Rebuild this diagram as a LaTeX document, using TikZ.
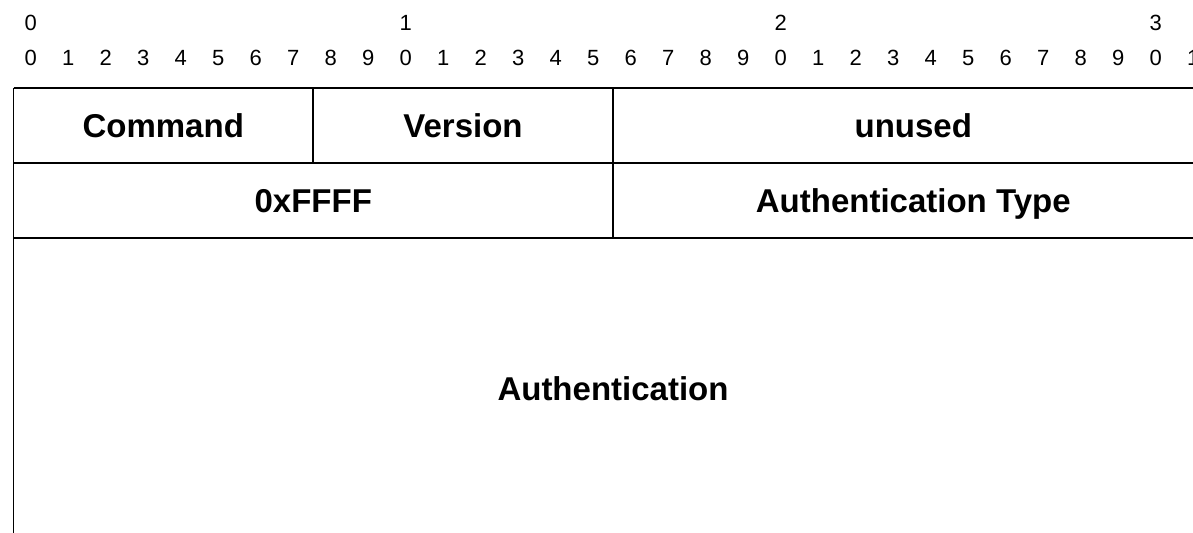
\documentclass[tikz,border=0pt]{standalone}
\usepackage{fontspec}
\setmainfont{Liberation Sans}
\begin{document}
\begin{tikzpicture}[x=1bp,y=-1bp,
  bitnum/.style={font=\fontsize{22bp}{22bp}\selectfont, text height=15.75bp, text depth=0pt, inner sep=0pt},
  field/.style={font=\fontsize{33bp}{33bp}\bfseries\selectfont, text height=23.6bp, text depth=0pt, inner sep=0pt},
  rule/.style={line width=1.2bp, draw=black}]
\useasboundingbox (0,0) rectangle (1193,533);
\begin{scope}
\clip (0,0) rectangle (1193,533);
% bit numbers
\foreach \k in {0,...,31}{
  \pgfmathtruncatemacro{\u}{mod(\k,10)}
  \node[bitnum] (u\k) at ({30.75+37.5*\k},57.5) {\u};
}
\foreach \t in {0,1,2,3}{
  \node[bitnum] (t\t) at ({30.75+375*\t},22.5) {\t};
}
% grid
\coordinate (a0) at (13.5,88);
\coordinate (a1) at (13.5,163);
\coordinate (a2) at (13.5,238);
\coordinate (a3) at (13.5,560);
\coordinate (b0) at (1213.5,88);
\coordinate (b1) at (1213.5,163);
\coordinate (b2) at (1213.5,238);
\coordinate (b3) at (1213.5,560);
\coordinate (c0) at (313,88);
\coordinate (c1) at (313,163);
\coordinate (d0) at (613,88);
\coordinate (d2) at (613,238);
\draw[rule] (a0) -- (b0);
\draw[rule] (a1) -- (b1);
\draw[rule] (a2) -- (b2);
\draw[rule] (a0) -- (a3);
\draw[rule] (b0) -- (b3);
\draw[rule] (c0) -- (c1);
\draw[rule] (d0) -- (d2);
% fields
\node[field] (cmd) at (163.25,125.5) {Command};
\node[field] (ver) at (463,125.5) {Version};
\node[field] (unu) at (913.25,125.5) {unused};
\node[field] (ffff) at (313.25,200.5) {0xFFFF};
\node[field] (atype) at (913.25,200.5) {Authentication Type};
\node[field] (auth) at (613,388.5) {Authentication};
\end{scope}
\end{tikzpicture}
\end{document}
